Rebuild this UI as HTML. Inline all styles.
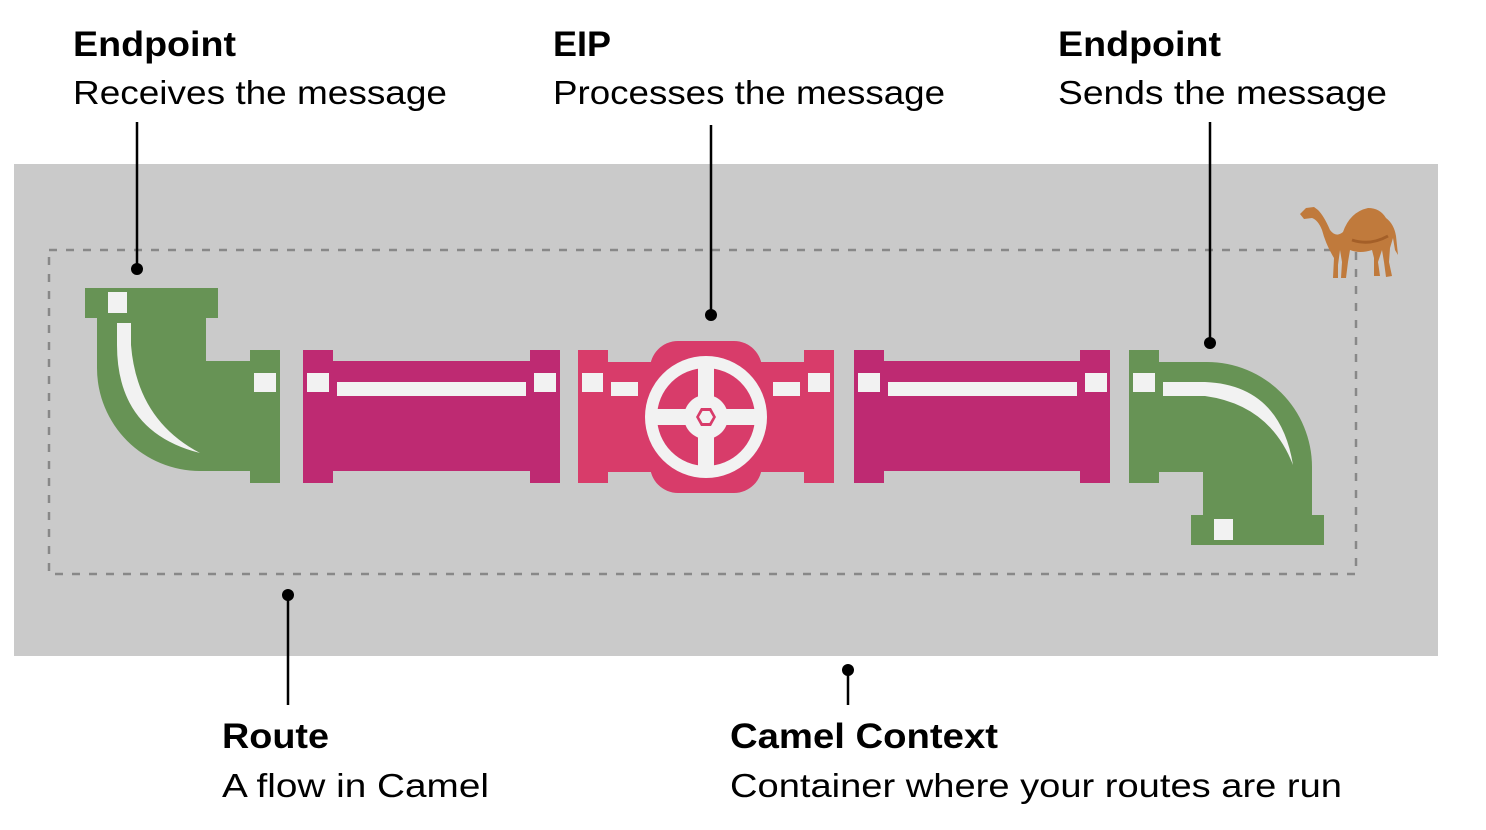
<!DOCTYPE html>
<html><head><meta charset="utf-8"><style>
html,body{margin:0;padding:0;background:#fff;}
svg{display:block;}
text{font-family:"Liberation Sans",sans-serif;fill:#000;}
.b{font-weight:bold;font-size:35px;}
.r{font-size:33px;}
</style></head><body>
<svg width="1486" height="830" viewBox="0 0 1486 830" xmlns="http://www.w3.org/2000/svg">
<rect x="0" y="0" width="1486" height="830" fill="#fff"/>
<rect x="14" y="164" width="1424" height="492" fill="#cacaca"/>
<rect x="49" y="250" width="1307" height="324" fill="none" stroke="#888" stroke-width="2.5" stroke-dasharray="8 9"/>

<!-- left elbow -->
<g fill="#679355">
<rect x="85" y="288" width="133" height="30"/>
<path d="M97,318 L206,318 L206,361 L250,361 L250,471 L200,471 A103,103 0 0 1 97,368 Z"/>
<rect x="250" y="350" width="30" height="133"/>
</g>
<g fill="#f2f2f2">
<rect x="108" y="292" width="19" height="21"/>
<rect x="254" y="373" width="22" height="19"/>
<path d="M117,323 L131,323 L131,345 Q137,420 200,453 Q117,432 117,345 Z"/>
</g>

<!-- magenta pipe 1 -->
<g fill="#be2a72">
<rect x="303" y="350" width="30" height="133"/>
<rect x="333" y="361" width="197" height="110"/>
<rect x="530" y="350" width="30" height="133"/>
</g>
<g fill="#f2f2f2">
<rect x="307" y="373" width="22" height="19"/>
<rect x="337" y="382" width="189" height="14"/>
<rect x="534" y="373" width="22" height="19"/>
</g>

<!-- valve -->
<g fill="#d83c6a">
<rect x="578" y="350" width="30" height="133"/>
<rect x="608" y="362" width="196" height="110"/>
<rect x="650" y="341" width="112" height="152" rx="28"/>
<rect x="804" y="350" width="30" height="133"/>
</g>
<g fill="#f2f2f2">
<rect x="582" y="373" width="21" height="19"/>
<rect x="611" y="382" width="27" height="14"/>
<rect x="773" y="382" width="27" height="14"/>
<rect x="808" y="373" width="22" height="19"/>
<circle cx="706" cy="417" r="61"/>
</g>
<circle cx="706" cy="417" r="49" fill="#d83c6a"/>
<g fill="#f2f2f2">
<rect x="698" y="366" width="16" height="102"/>
<rect x="655" y="409" width="102" height="16"/>
<circle cx="706" cy="417" r="22"/>
</g>
<polygon points="716,417 711,426 701,426 696,417 701,408 711,408" fill="#d83c6a"/>
<polygon points="713,417 709.5,423 702.5,423 699,417 702.5,411 709.5,411" fill="#f2f2f2"/>

<!-- magenta pipe 2 -->
<g fill="#be2a72">
<rect x="854" y="350" width="30" height="133"/>
<rect x="884" y="361" width="196" height="110"/>
<rect x="1080" y="350" width="30" height="133"/>
</g>
<g fill="#f2f2f2">
<rect x="858" y="373" width="22" height="19"/>
<rect x="888" y="382" width="189" height="14"/>
<rect x="1085" y="373" width="22" height="19"/>
</g>

<!-- right elbow -->
<g fill="#679355">
<rect x="1129" y="350" width="30" height="133"/>
<path d="M1159,362 L1207,362 A105,105 0 0 1 1312,467 L1312,515 L1203,515 L1203,472 L1159,472 Z"/>
<rect x="1191" y="515" width="133" height="30"/>
</g>
<g fill="#f2f2f2">
<rect x="1133" y="373" width="22" height="19"/>
<path d="M1163,382 L1205,382 Q1280,385 1293,465 Q1270,405 1205,396 L1163,396 Z"/>
<rect x="1214" y="519" width="19" height="21"/>
</g>

<!-- camel -->
<g fill="#c07a3c">
<path d="M1300,214 L1306,208 L1314,207 L1318,210 Q1324,216 1330,230 Q1336,238 1343,232 Q1350,212 1368,208 Q1380,208 1386,218 Q1394,224 1396,236 L1398,255 L1395,250 L1393,238 L1390,248 L1389,262 L1392,276 L1386,277 L1384,262 L1382,250 L1378,262 L1380,276 L1374,276 L1374,258 L1372,250 Q1360,254 1350,250 L1348,262 L1346,278 L1341,278 L1342,262 L1340,250 L1338,265 L1338,278 L1333,278 L1334,258 Q1326,245 1322,230 Q1318,220 1312,218 L1304,219 Z"/>
</g>
<path d="M1352,240 Q1370,246 1388,236" stroke="#a45f28" stroke-width="3" fill="none"/>

<!-- connectors -->
<g stroke="#000" stroke-width="2.5">
<line x1="137" y1="122" x2="137" y2="269"/>
<line x1="711" y1="125" x2="711" y2="315"/>
<line x1="1210" y1="122" x2="1210" y2="343"/>
<line x1="288" y1="595" x2="288" y2="705"/>
<line x1="848" y1="670" x2="848" y2="705"/>
</g>
<g fill="#000">
<circle cx="137" cy="269" r="6"/>
<circle cx="711" cy="315" r="6"/>
<circle cx="1210" cy="343" r="6"/>
<circle cx="288" cy="595" r="6"/>
<circle cx="848" cy="670" r="6"/>
</g>

<!-- labels -->
<text class="b" x="73" y="56" textLength="163" lengthAdjust="spacingAndGlyphs">Endpoint</text>
<text class="r" x="73" y="104" textLength="374" lengthAdjust="spacingAndGlyphs">Receives the message</text>
<text class="b" x="553" y="56" textLength="58" lengthAdjust="spacingAndGlyphs">EIP</text>
<text class="r" x="553" y="104" textLength="392" lengthAdjust="spacingAndGlyphs">Processes the message</text>
<text class="b" x="1058" y="56" textLength="163" lengthAdjust="spacingAndGlyphs">Endpoint</text>
<text class="r" x="1058" y="104" textLength="329" lengthAdjust="spacingAndGlyphs">Sends the message</text>
<text class="b" x="222" y="748" textLength="107" lengthAdjust="spacingAndGlyphs">Route</text>
<text class="r" x="222" y="797" textLength="267" lengthAdjust="spacingAndGlyphs">A flow in Camel</text>
<text class="b" x="730" y="748" textLength="268" lengthAdjust="spacingAndGlyphs">Camel Context</text>
<text class="r" x="730" y="797" textLength="612" lengthAdjust="spacingAndGlyphs">Container where your routes are run</text>
</svg>
</body></html>
